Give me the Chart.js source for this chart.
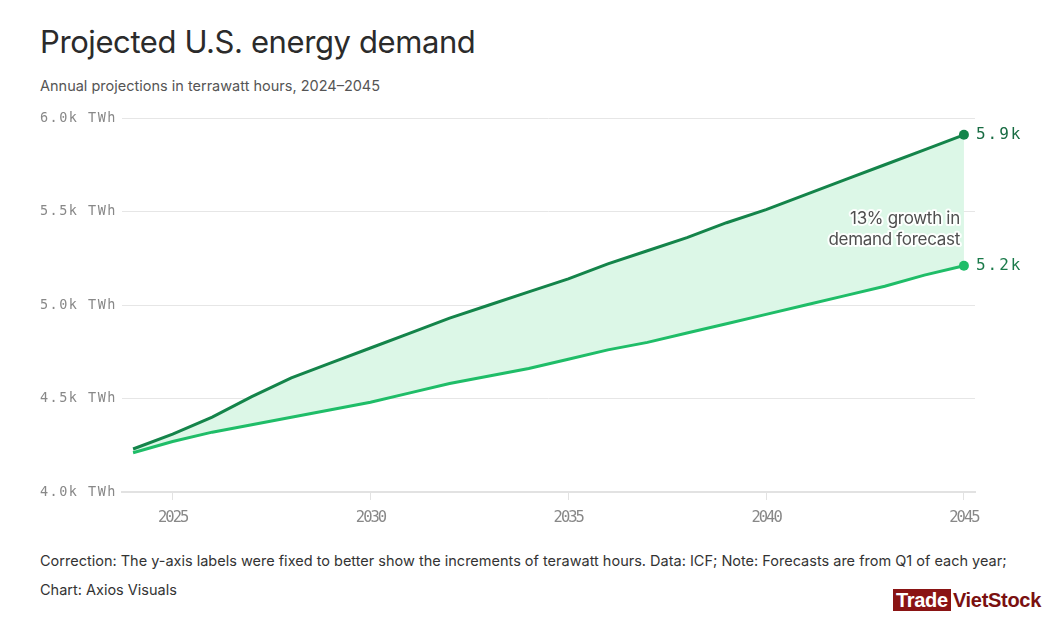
<!DOCTYPE html>
<html>
<head>
<meta charset="utf-8">
<script src="https://cdn.jsdelivr.net/npm/chart.js@4"></script>
<style>
  body { margin: 0; background: #fff; width: 1061px; height: 622px; overflow: hidden; position: relative; font-family: Inter, "Noto Sans", sans-serif; }
  h1 { position: absolute; left: 40px; top: 23px; margin: 0; font-size: 31px; font-weight: 400; color: #2b2b2b; letter-spacing: -0.4px; }
  .sub { position: absolute; left: 40px; top: 77px; font-size: 14.5px; color: #555; }
  .foot { position: absolute; left: 40px; font-size: 14.5px; color: #333; }
  #wrap { position: absolute; left: 0; top: 100px; width: 1061px; height: 445px; }
  .wm { position: absolute; left: 893px; top: 589px; font-family: "Liberation Sans", Arial, sans-serif; font-weight: 700; font-size: 20px; letter-spacing: -0.3px; }
  .wm .t { background: #8a1414; color: #fff; padding: 0 3px; }
  .wm .v { color: #7a1010; margin-left: 2px; }
</style>
</head>
<body>
<h1>Projected U.S. energy demand</h1>
<div class="sub">Annual projections in terrawatt hours, 2024–2045</div>
<div id="wrap"><canvas id="chart"></canvas></div>
<div class="foot" style="top:552px">Correction: The y-axis labels were fixed to better show the increments of terawatt hours. Data: ICF; Note: Forecasts are from Q1 of each year;</div>
<div class="foot" style="top:581px">Chart: Axios Visuals</div>
<div class="wm"><span class="t">Trade</span><span class="v">VietStock</span></div>

<script>
// Data (thousand TWh)
const years = [2024, 2025, 2026, 2027, 2028, 2029, 2030, 2031, 2032, 2033, 2034,
               2035, 2036, 2037, 2038, 2039, 2040, 2041, 2042, 2043, 2044, 2045];
const forecast2025 = [4.23, 4.31, 4.40, 4.51, 4.61, 4.69, 4.77, 4.85, 4.93, 5.00, 5.07,
                      5.14, 5.22, 5.29, 5.36, 5.44, 5.51, 5.59, 5.67, 5.75, 5.83, 5.91];
const forecast2024 = [4.21, 4.27, 4.32, 4.36, 4.40, 4.44, 4.48, 4.53, 4.58, 4.62, 4.66,
                      4.71, 4.76, 4.80, 4.85, 4.90, 4.95, 5.00, 5.05, 5.10, 5.16, 5.21];
const endLabels = ['5.9k', '5.2k'];
const xTicks = [2025, 2030, 2035, 2040, 2045];
const yTicks = [4.0, 4.5, 5.0, 5.5, 6.0];
const annotation = ['13% growth in', 'demand forecast'];

const DARK = '#14844a';
const LIGHT = '#1fbd68';
const MONO = '"DejaVu Sans Mono", "Liberation Mono", monospace';

function toPoints(vals) {
  return years.map((y, i) => ({ x: y, y: vals[i] }));
}
function lastOnly(r) {
  return ctx => ctx.dataIndex === years.length - 1 ? r : 0;
}

// the axis fonts are spaced wide on y, narrow on x
const spacingPlugin = {
  id: 'spacing',
  beforeDraw(chart) {
    chart.ctx.letterSpacing = '1.5px';
  }
};

// end labels + annotation text
const labelPlugin = {
  id: 'labels',
  afterDatasetsDraw(chart) {
    const c = chart.ctx;
    const xs = chart.scales.x, ys = chart.scales.y;
    const last = years.length - 1;
    c.save();
    c.letterSpacing = '2px';
    c.font = '16px ' + MONO;
    c.textBaseline = 'middle';
    c.textAlign = 'left';
    chart.data.datasets.forEach((ds, i) => {
      const p = ds.data[last];
      c.fillStyle = i === 0 ? '#176b42' : '#1a7a4a';
      c.fillText(endLabels[i], xs.getPixelForValue(p.x) + 12, ys.getPixelForValue(p.y));
    });
    // annotation
    c.letterSpacing = '-0.3px';
    c.font = '17px Inter, "Noto Sans", sans-serif';
    c.textAlign = 'right';
    c.lineJoin = 'round';
    const ax = xs.getPixelForValue(years[last]) - 4;
    const ay = ys.getPixelForValue(5.46);
    annotation.forEach((t, k) => {
      c.strokeStyle = 'rgba(255,255,255,0.9)';
      c.lineWidth = 4;
      c.strokeText(t, ax, ay + k * 21);
      c.fillStyle = '#4f4f4f';
      c.fillText(t, ax, ay + k * 21);
    });
    c.restore();
    // x tick labels draw after this (ticks.z: 1)
    c.letterSpacing = '-2px';
  }
};

new Chart(document.getElementById('chart'), {
  type: 'line',
  data: {
    datasets: [{
      label: '2025 forecast',
      data: toPoints(forecast2025),
      borderColor: DARK,
      backgroundColor: '#dcf7e7',
      borderWidth: 3,
      fill: '+1',
      tension: 0,
      pointRadius: lastOnly(5),
      pointBackgroundColor: DARK,
      pointBorderWidth: 0
    }, {
      label: '2024 forecast',
      data: toPoints(forecast2024),
      borderColor: LIGHT,
      borderWidth: 3,
      fill: false,
      tension: 0,
      pointRadius: lastOnly(5),
      pointBackgroundColor: LIGHT,
      pointBorderWidth: 0
    }]
  },
  options: {
    responsive: true,
    maintainAspectRatio: false,
    animation: false,
    layout: { padding: { top: 18, right: 86, left: 0, bottom: 0 } },
    plugins: {
      legend: { display: false },
      tooltip: { enabled: false },
      filler: { drawTime: 'beforeDatasetsDraw' }
    },
    scales: {
      x: {
        type: 'linear',
        min: 2023.72,
        max: 2045.28,
        afterBuildTicks: s => { s.ticks = xTicks.map(v => ({ value: v })); },
        afterFit: s => { s.height = 53; },
        grid: { drawOnChartArea: false, drawTicks: true, tickLength: 8, color: '#e2e2e2' },
        border: { display: true, color: '#e2e2e2', width: 2 },
        ticks: {
          z: 1,
          color: '#888',
          font: { family: MONO, size: 15.5 },
          padding: 9,
          maxRotation: 0,
          callback: v => String(v)
        }
      },
      y: {
        min: 4.0,
        max: 6.0,
        afterBuildTicks: s => { s.ticks = yTicks.map(v => ({ value: v })); },
        afterFit: s => { s.width = 122; },
        grid: { color: '#e6e6e6', drawTicks: false },
        border: { display: false },
        ticks: {
          color: '#888',
          font: { family: MONO, size: 13.5 },
          padding: 5,
          callback: v => v.toFixed(1) + 'k TWh'
        }
      }
    }
  },
  plugins: [spacingPlugin, labelPlugin]
});
</script>
</body>
</html>
